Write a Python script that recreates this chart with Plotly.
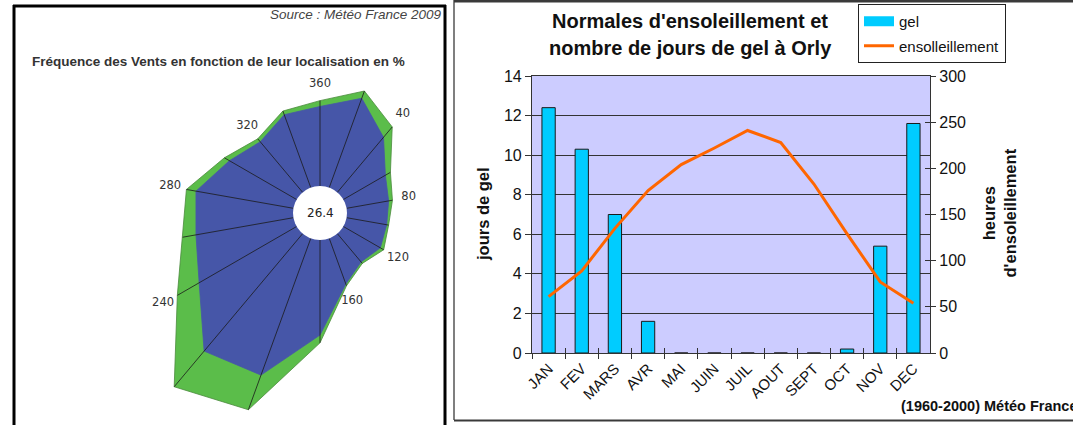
import numpy as np
import plotly.graph_objects as go

# ---------------- Wind rose, Orly ----------------
directions = [0, 20, 40, 60, 80, 100, 120, 140, 160, 180, 200, 220, 240, 260, 280, 300, 320, 340]
freq_inner = [4.1, 4.9, 3.7, 2.5, 2.2, 2.1, 2.2, 1.9, 2.5, 4.9, 7.5, 7.9, 5.8, 5.1, 5.1, 4.0, 3.4, 4.0]
freq_outer = [4.4, 5.3, 4.4, 2.8, 2.4, 2.2, 2.4, 2.0, 2.6, 5.3, 9.4, 10.3, 7.1, 5.8, 5.6, 4.3, 3.6, 4.2]
calm_pct = 26.4
label_dirs = [0, 40, 80, 120, 160, 200, 240, 280, 320]
label_names = ["360", "40", "80", "120", "160", "200", "240", "280", "320"]

# ---------------- Monthly normals ----------------
months = ["JAN", "FEV", "MARS", "AVR", "MAI", "JUIN", "JUIL", "AOUT", "SEPT", "OCT", "NOV", "DEC"]
gel_days = [12.4, 10.3, 7.0, 1.6, 0, 0, 0, 0, 0, 0.2, 5.4, 11.6]
sun_hours = [61, 89, 135, 176, 204, 222, 241, 228, 183, 129, 77, 54]

W, H = 1073, 425
PX_PER_UNIT = 19.4            # rose scale: pixels per % of frequency
HOLE = 27 / PX_PER_UNIT       # radius of the calm circle, in rose units
ROSE_CX, ROSE_CY = 320, 213   # rose centre (pixels)
ROSE_W = 450                  # width of the rose panel (pixels)
LABEL_GAP = 0.85

GREEN = "#5bbd4a"
BLUE = "#4656a8"
FONT = "Liberation Sans"


def px(x):
    return x / W


def py(y):
    return 1 - y / H


def polar_xy(dirs, vals):
    th = np.radians(np.asarray(dirs, dtype=float))
    r = HOLE + np.asarray(vals, dtype=float)
    return r * np.sin(th), r * np.cos(th)


fig = go.Figure()

# ---- rose polygons ----
for vals, fill, edge in ((freq_outer, GREEN, "#4a8a3c"), (freq_inner, BLUE, BLUE)):
    x, y = polar_xy(directions, vals)
    fig.add_trace(go.Scatter(
        x=np.append(x, x[0]), y=np.append(y, y[0]), mode="lines",
        fill="toself", fillcolor=fill, line=dict(color=edge, width=0.8),
        xaxis="x3", yaxis="y3", showlegend=False, hoverinfo="skip"))

# ---- spokes from the calm circle to the outer outline ----
sx, sy = [], []
for d, v in zip(directions, freq_outer):
    x0, y0 = polar_xy([d], [0])
    x1, y1 = polar_xy([d], [v])
    sx += [x0[0], x1[0], None]
    sy += [y0[0], y1[0], None]
fig.add_trace(go.Scatter(x=sx, y=sy, mode="lines", line=dict(color="#1a1a1a", width=0.8),
                         xaxis="x3", yaxis="y3", showlegend=False, hoverinfo="skip"))

# ---- direction labels ----
lab_r = [freq_outer[directions.index(d)] + LABEL_GAP for d in label_dirs]
lx, ly = polar_xy(label_dirs, lab_r)
fig.add_trace(go.Scatter(x=lx, y=ly, mode="text", text=label_names,
                         textfont=dict(family="DejaVu Sans", size=11.5, color="#333333"),
                         xaxis="x3", yaxis="y3", showlegend=False, hoverinfo="skip",
                         cliponaxis=False))

# ---- monthly chart ----
fig.add_trace(go.Bar(x=months, y=gel_days, name="gel", width=0.4, showlegend=False,
                     marker=dict(color="#00ccff", line=dict(color="#1a1a1a", width=1))))
# legend key for the bars, drawn as a wide swatch
fig.add_trace(go.Scatter(x=[None], y=[None], name="gel", mode="lines",
                         line=dict(color="#00ccff", width=10), legendgroup="a"))
fig.add_trace(go.Scatter(x=months, y=sun_hours, name="ensolleillement", mode="lines",
                         line=dict(color="#ff6600", width=3), yaxis="y2",
                         legendgroup="b"))
# helper traces carrying the inner tick marks
fig.add_trace(go.Scatter(x=months, y=sun_hours, mode="lines", line=dict(width=0),
                         opacity=0, yaxis="y4", showlegend=False, hoverinfo="skip"))
fig.add_trace(go.Scatter(x=months, y=gel_days, mode="lines", line=dict(width=0),
                         opacity=0, xaxis="x5", showlegend=False, hoverinfo="skip"))

PLOT_L, PLOT_R, PLOT_T, PLOT_B = 532, 930, 76, 353
tick_font = dict(family=FONT, size=16, color="#111111")

fig.update_layout(
    template="none",
    width=W, height=H, autosize=False,
    margin=dict(l=0, r=0, t=0, b=0, pad=0, autoexpand=False),
    paper_bgcolor="white", plot_bgcolor="rgba(0,0,0,0)",
    xaxis=dict(domain=[px(PLOT_L), px(PLOT_R)], anchor="y", type="category",
               range=[-0.5, 11.5], tickangle=-45, ticks="outside", ticklen=5,
               tickson="boundaries", tickcolor="#333333", showline=True, mirror=True,
               linecolor="#333333", linewidth=1.2, showgrid=False, automargin=False,
               tickfont=dict(family=FONT, size=15, color="#111111"), fixedrange=True),
    xaxis5=dict(overlaying="x", anchor="y", type="category", range=[-0.5, 11.5],
                ticks="inside", ticklen=5, tickson="boundaries", tickcolor="#333333",
                showticklabels=False, showgrid=False, showline=False, zeroline=False,
                automargin=False, fixedrange=True),
    yaxis=dict(domain=[py(PLOT_B), py(PLOT_T)], anchor="x", range=[0, 14], dtick=2,
               ticks="outside", ticklen=6, tickcolor="#333333", showline=True,
               linecolor="#333333", linewidth=1.2, gridcolor="#333333", gridwidth=1,
               showgrid=True, zeroline=False, tickfont=tick_font, automargin=False,
               fixedrange=True),
    yaxis2=dict(overlaying="y", side="right", anchor="x", range=[0, 300], dtick=50,
                ticks="outside", ticklen=5, tickcolor="#333333", showline=True,
                linecolor="#333333", linewidth=1.2, showgrid=False, zeroline=False,
                tickfont=tick_font, automargin=False, fixedrange=True),
    yaxis4=dict(overlaying="y", side="right", anchor="x", range=[0, 300], dtick=50,
                ticks="inside", ticklen=5, tickcolor="#333333", showticklabels=False,
                showline=False, showgrid=False, zeroline=False, automargin=False,
                fixedrange=True),
    xaxis3=dict(domain=[0, px(ROSE_W)], anchor="y3", visible=False, fixedrange=True,
                automargin=False,
                range=[(0 - ROSE_CX) / PX_PER_UNIT, (ROSE_W - ROSE_CX) / PX_PER_UNIT]),
    yaxis3=dict(domain=[0, 1], anchor="x3", visible=False, fixedrange=True,
                automargin=False,
                range=[-(H - ROSE_CY) / PX_PER_UNIT, ROSE_CY / PX_PER_UNIT]),
    legend=dict(x=px(858), y=py(4), xanchor="left", yanchor="top",
                bgcolor="white", bordercolor="#222222", borderwidth=1,
                font=dict(family=FONT, size=15, color="#111111"),
                tracegroupgap=2, itemwidth=30),
    showlegend=True,
)

shapes = [
    # lavender plot area
    dict(type="rect", xref="x domain", yref="y domain", x0=0, x1=1, y0=0, y1=1,
         fillcolor="#ccccff", line=dict(width=0), layer="below"),
    # calm circle at the rose centre
    dict(type="circle", xref="x3", yref="y3", x0=-HOLE, x1=HOLE, y0=-HOLE, y1=HOLE,
         fillcolor="white", line=dict(width=0), layer="above"),
    # frame of the rose panel
    dict(type="line", xref="paper", yref="paper", x0=px(14), x1=px(14), y0=py(5), y1=0,
         line=dict(color="black", width=3)),
    dict(type="line", xref="paper", yref="paper", x0=px(13), x1=px(446), y0=py(6), y1=py(6),
         line=dict(color="black", width=3)),
    dict(type="line", xref="paper", yref="paper", x0=px(445), x1=px(445), y0=py(5), y1=0,
         line=dict(color="black", width=3)),
    # frame of the monthly chart panel
    dict(type="line", xref="paper", yref="paper", x0=px(454), x1=px(454), y0=1, y1=py(420),
         line=dict(color="#555555", width=1.5)),
    dict(type="line", xref="paper", yref="paper", x0=px(454), x1=1, y0=py(1), y1=py(1),
         line=dict(color="#3a3a3a", width=3)),
    dict(type="line", xref="paper", yref="paper", x0=px(454), x1=1, y0=py(420.5), y1=py(420.5),
         line=dict(color="#3a3a3a", width=2)),
]

annotations = [
    dict(text=f"{calm_pct}", xref="x3", yref="y3", x=0, y=0, showarrow=False,
         font=dict(family="DejaVu Sans", size=12, color="#222222")),
    dict(text="Source : Météo France 2009", xref="paper", yref="paper", x=px(444), y=py(14),
         xanchor="right", yanchor="middle", showarrow=False,
         font=dict(family=FONT, size=13.5, color="#444444", style="italic")),
    dict(text="<b>Fréquence des Vents en fonction de leur localisation en %</b>",
         xref="paper", yref="paper", x=px(30), y=py(61), xanchor="left", yanchor="middle",
         showarrow=False, font=dict(family=FONT, size=13.5, color="#333333")),
    dict(text="<b>Normales d'ensoleillement et</b>", xref="paper", yref="paper",
         x=px(690), y=py(21), xanchor="center", yanchor="middle", showarrow=False,
         font=dict(family=FONT, size=20, color="#111111")),
    dict(text="<b>nombre de jours de gel à Orly</b>", xref="paper", yref="paper",
         x=px(690), y=py(48), xanchor="center", yanchor="middle", showarrow=False,
         font=dict(family=FONT, size=20, color="#111111")),
    dict(text="<b>jours de gel</b>", xref="paper", yref="paper", x=px(483), y=py(214),
         textangle=-90, showarrow=False, font=dict(family=FONT, size=16.5, color="#111111")),
    dict(text="<b>heures<br>d'ensoleillement</b>", xref="paper", yref="paper",
         x=px(1020), y=py(213), textangle=-90, showarrow=False,
         font=dict(family=FONT, size=16.5, color="#111111")),
    dict(text="<b>(1960-2000) Météo France</b>", xref="paper", yref="paper",
         x=px(899), y=py(406), xanchor="left", yanchor="middle", showarrow=False,
         font=dict(family=FONT, size=14.5, color="#111111")),
]

fig.update_layout(shapes=shapes, annotations=annotations)
fig.write_html("out.html")
